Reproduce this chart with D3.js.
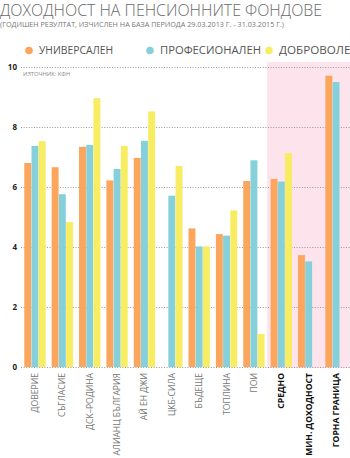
<!DOCTYPE html>
<html><head><meta charset="utf-8">
<script src="https://cdn.jsdelivr.net/npm/d3@7"></script>
<style>
html,body{margin:0;padding:0;background:#fff;}
svg{display:block;font-family:"Open Sans",sans-serif;}
</style></head>
<body><svg id="c" width="350" height="458"></svg>
<script>
const categories = ["ДОВЕРИЕ","СЪГЛАСИЕ","ДСК–РОДИНА","АЛИАНЦ БЪЛГАРИЯ","АЙ ЕН ДЖИ","ЦКБ-СИЛА","БЪДЕЩЕ","ТОПЛИНА","ПОИ","СРЕДНО","МИН. ДОХОДНОСТ","ГОРНА ГРАНИЦА"];
const boldCategories = ["СРЕДНО","МИН. ДОХОДНОСТ","ГОРНА ГРАНИЦА"];
const seriesNames = ["УНИВЕРСАЛЕН","ПРОФЕСИОНАЛЕН","ДОБРОВОЛЕН"];
const universal    = [6.80, 6.66, 7.34, 6.22, 6.97, null, 4.62, 4.43, 6.20, 6.27, 3.73, 9.71];
const professional = [7.37, 5.76, 7.40, 6.60, 7.54, 5.71, 4.02, 4.38, 6.89, 6.18, 3.52, 9.50];
const voluntary    = [7.53, 4.83, 8.96, 7.37, 8.52, 6.70, 4.02, 5.22, 1.10, 7.13, null, null];
const yTicks = [0, 2, 4, 6, 8, 10];
const colors = ["#fba65c", "#85d0db", "#f8ec62"];

const svg = d3.select("#c");
const seriesValues = [universal, professional, voluntary];

const x = d3.scaleBand().domain(categories).range([21, 350]).paddingInner(0.22).paddingOuter(0.12);
const xs = d3.scaleBand().domain(seriesNames).range([0, x.bandwidth()]).paddingInner(0.04);
const y = d3.scaleLinear().domain([0, 10]).range([367, 67]);

// highlight area
svg.append("rect")
  .attr("x", x("СРЕДНО") - x.step() * x.paddingInner() / 2 - 0.5)
  .attr("y", 62)
  .attr("width", 350)
  .attr("height", y(0) - 62 + 1)
  .attr("fill", "#fde4ec");

// title
svg.append("text").attr("x", 0).attr("y", 16)
  .attr("font-size", 15.5).attr("fill", "#6a6a6a").attr("font-weight", 300)
  .attr("textLength", 322).attr("lengthAdjust", "spacingAndGlyphs")
  .text("ДОХОДНОСТ НА ПЕНСИОННИТЕ ФОНДОВЕ");
svg.append("text").attr("x", 0).attr("y", 27)
  .attr("font-size", 6.6).attr("fill", "#777")
  .attr("textLength", 284).attr("lengthAdjust", "spacingAndGlyphs")
  .text("(ГОДИШЕН РЕЗУЛТАТ, ИЗЧИСЛЕН НА БАЗА ПЕРИОДА 29.03.2013 Г. - 31.03.2015 Г.)");

// legend
const legendX = [29, 150, 269];
const legendTextLen = [74, 101, 80];
seriesNames.forEach((s, i) => {
  svg.append("circle").attr("cx", legendX[i]).attr("cy", 50.5).attr("r", 3.8).attr("fill", colors[i]);
  svg.append("text").attr("x", legendX[i] + 10).attr("y", 54.3)
    .attr("font-size", 10).attr("fill", "#555")
    .attr("textLength", legendTextLen[i]).attr("lengthAdjust", "spacingAndGlyphs")
    .text(s);
});

// grid + y axis
const yAxis = d3.axisLeft(y).tickValues(yTicks).tickSize(-(350 - 21)).tickFormat(d3.format("d"));
const gy = svg.append("g").attr("transform", "translate(21,0)").call(yAxis);
gy.select(".domain").remove();
gy.selectAll(".tick line").attr("stroke", "#999").attr("stroke-dasharray", "1,1.6").attr("stroke-width", 1);
gy.selectAll(".tick text").attr("x", -4).attr("font-size", 8).attr("font-weight", 700)
  .attr("fill", "#222").attr("font-family", "'Open Sans',sans-serif");

svg.append("text").attr("x", 23).attr("y", 76).attr("font-size", 5.8).attr("fill", "#888")
  .text("ИЗТОЧНИК: КФН");

// bars
const rows = categories.map((c, i) => ({c, vals: seriesValues.map((sv, j) => ({s: seriesNames[j], v: sv[i], j}))}));
const g = svg.append("g").selectAll("g").data(rows).join("g")
  .attr("transform", d => `translate(${x(d.c)},0)`);
g.selectAll("rect").data(d => d.vals.filter(e => e.v != null)).join("rect")
  .attr("x", e => xs(e.s))
  .attr("width", xs.bandwidth())
  .attr("y", e => y(e.v))
  .attr("height", e => y(0) - y(e.v))
  .attr("fill", e => colors[e.j]);

// x axis labels
const xAxis = d3.axisBottom(x).tickSize(0);
const gx = svg.append("g").attr("transform", `translate(0,${y(0)})`).call(xAxis);
gx.select(".domain").remove();
gx.selectAll(".tick text")
  .attr("transform", "rotate(-90)")
  .attr("x", -6).attr("y", 0).attr("dy", "0.35em")
  .attr("text-anchor", "end")
  .attr("font-family", "'Open Sans',sans-serif")
  .attr("font-size", 8.6)
  .attr("font-weight", d => boldCategories.includes(d) ? 700 : 400)
  .attr("fill", d => boldCategories.includes(d) ? "#111" : "#777");
</script></body></html>
